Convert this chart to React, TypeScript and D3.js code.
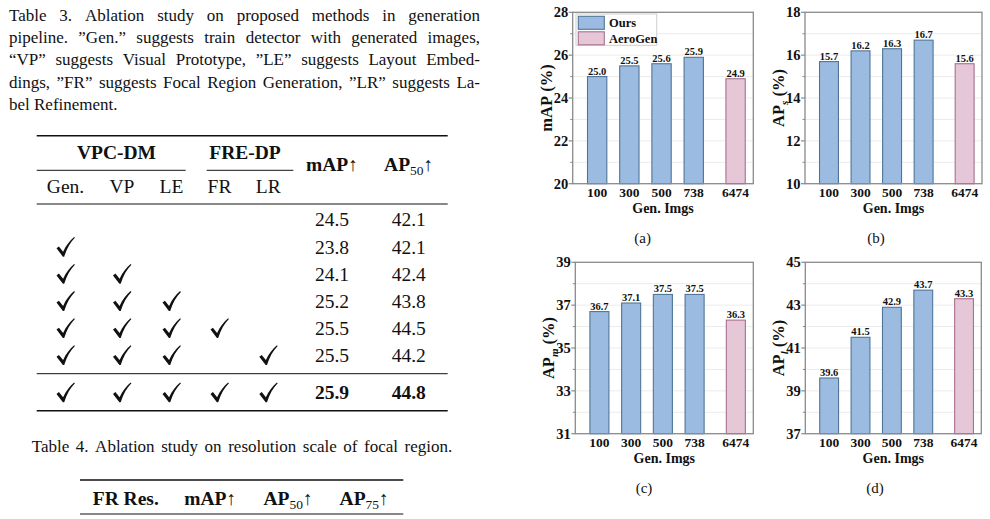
import React from "react";
import * as d3 from "d3";

const SERIF = "'Liberation Serif', 'Times New Roman', serif";

// bar chart data: generated image counts vs. detector scores
const imgCounts = ["100", "300", "500", "738", "6474"];
const methods = ["Ours", "Ours", "Ours", "Ours", "AeroGen"];
const slots = [0, 1, 2, 3, 4.3];
const mapVals = [25.0, 25.5, 25.6, 25.9, 24.9];
const apsVals = [15.7, 16.2, 16.3, 16.7, 15.6];
const apmVals = [36.7, 37.1, 37.5, 37.5, 36.3];
const aplVals = [39.6, 41.5, 42.9, 43.7, 43.3];

// table 3 rows
const t3Checks = [
  [0, 0, 0, 0, 0],
  [1, 0, 0, 0, 0],
  [1, 1, 0, 0, 0],
  [1, 1, 1, 0, 0],
  [1, 1, 1, 1, 0],
  [1, 1, 1, 0, 1],
  [1, 1, 1, 1, 1],
];
const t3Map = ["24.5", "23.8", "24.1", "25.2", "25.5", "25.5", "25.9"];
const t3Ap50 = ["42.1", "42.1", "42.4", "43.8", "44.5", "44.2", "44.8"];
const t3SubHeads = ["Gen.", "VP", "LE", "FR", "LR"];

const captionLines = [
  "Table 3.  Ablation study on proposed methods in generation",
  "pipeline.  \u201DGen.\u201D suggests train detector with generated images,",
  "\u201CVP\u201D suggests Visual Prototype, \u201DLE\u201D suggests Layout Embed-",
  "dings, \u201DFR\u201D suggests Focal Region Generation, \u201DLR\u201D suggests La-",
  "bel Refinement.",
];

const colors = {
  Ours: { fill: "#9bbbe1", stroke: "#4f7698" },
  AeroGen: { fill: "#e5c7d7", stroke: "#a8708e" },
};

const panels = [
  { id: "a", values: mapVals, yMin: 20, label: "mAP", sub: "", box: [572.7, 753.3, 12.3, 183.7], legend: true, capX: 642.7 },
  { id: "b", values: apsVals, yMin: 10, label: "AP", sub: "s", box: [805, 982, 12.3, 183.7], legend: false, capX: 876 },
  { id: "c", values: apmVals, yMin: 31, label: "AP", sub: "m", box: [575.3, 753.3, 262.3, 433.7], legend: false, capX: 644 },
  { id: "d", values: aplVals, yMin: 37, label: "AP", sub: "l", box: [805.3, 981.3, 262.3, 433.7], legend: false, capX: 875 },
];

const ctx = document.createElement("canvas").getContext("2d");
const measure = (s: string, font: string) => {
  ctx.font = font;
  return ctx.measureText(s).width;
};

function Justified({ text, x0, x1, y, size, justify }) {
  const font = `${size}px 'Liberation Serif'`;
  const words = text.split(/ +/);
  const widths = words.map(w => measure(w, font));
  const total = d3.sum(widths);
  const gap = justify ? (x1 - x0 - total) / (words.length - 1) : measure(" ", font);
  let cx = x0;
  return (
    <g>
      {words.map((w, i) => {
        const px = cx;
        cx += widths[i] + gap;
        return (
          <text key={i} x={px} y={y} fontSize={size} fontFamily={SERIF} fill="#111">
            {w}
          </text>
        );
      })}
    </g>
  );
}

function BarPanel({ cfg }) {
  const [x0, x1, y0, y1] = cfg.box;
  const x = d3.scaleLinear().domain([-0.76, 4.85]).range([x0, x1]);
  const y = d3.scaleLinear().domain([cfg.yMin, cfg.yMin + 8]).range([y1, y0]);
  const bw = (x(1) - x(0)) * 0.6;
  const grid = d3.range(cfg.yMin + 1, cfg.yMin + 8, 1);
  const major = d3.range(cfg.yMin, cfg.yMin + 9, 2);
  const minor = d3.range(cfg.yMin + 1, cfg.yMin + 8, 2);
  const midY = (y0 + y1) / 2;
  const titleX = x0 - 21;
  return (
    <g>
      {grid.map(v => (
        <line key={v} x1={x0} x2={x1} y1={y(v)} y2={y(v)} stroke="#ebebeb" strokeWidth={1} />
      ))}
      {cfg.values.map((v, i) => {
        const c = colors[methods[i]];
        return (
          <g key={i}>
            <rect x={x(slots[i]) - bw / 2} y={y(v)} width={bw} height={y1 - y(v)}
              fill={c.fill} stroke={c.stroke} strokeWidth={1.1} />
            <text x={x(slots[i])} y={y(v) - 2} textAnchor="middle" fontSize={10.5}
              fontWeight="bold" fontFamily={SERIF} fill="#111">{v.toFixed(1)}</text>
            <text x={x(slots[i])} y={y1 + 13.5} textAnchor="middle" fontSize={13.5}
              fontWeight="bold" fontFamily={SERIF} fill="#111">{imgCounts[i]}</text>
          </g>
        );
      })}
      <rect x={x0} y={y0} width={x1 - x0} height={y1 - y0} fill="none" stroke="#8a8a8a" strokeWidth={1.3} />
      {major.map(v => (
        <g key={v}>
          <line x1={x0 - 4} x2={x0} y1={y(v)} y2={y(v)} stroke="#8a8a8a" strokeWidth={1.2} />
          <text x={x0 - 4.5} y={y(v) + 5} textAnchor="end" fontSize={14.5} fontWeight="bold"
            fontFamily={SERIF} fill="#111">{v}</text>
        </g>
      ))}
      {minor.map(v => (
        <line key={v} x1={x0 - 2.5} x2={x0} y1={y(v)} y2={y(v)} stroke="#8a8a8a" strokeWidth={1} />
      ))}
      <text transform={`translate(${titleX},${midY}) rotate(-90)`} textAnchor="middle"
        fontSize={16.5} fontWeight="bold" fontFamily={SERIF} fill="#111">
        <tspan>{cfg.label}</tspan>
        {cfg.sub ? <tspan fontSize={11} fontStyle="italic" dy={4}>{cfg.sub}</tspan> : null}
        <tspan dy={cfg.sub ? -4 : 0}>{"\u00A0(%)"}</tspan>
      </text>
      <text x={(x0 + x1) / 2} y={y1 + 29.5} textAnchor="middle" fontSize={14}
        fontWeight="bold" fontFamily={SERIF} fill="#111">Gen. Imgs</text>
      <text x={cfg.capX} y={y1 + 59} textAnchor="middle" fontSize={15}
        fontFamily={SERIF} fill="#111">({cfg.id})</text>
      {cfg.legend && (
        <g transform={`translate(${x0 + 3.3},${y0 + 1.7})`}>
          <rect x={0} y={0} width={80.7} height={31.3} fill="#fff" stroke="#cfcfcf" strokeWidth={1} />
          {["Ours", "AeroGen"].map((m, i) => (
            <g key={m} transform={`translate(0,${i * 15.5})`}>
              <rect x={2.3} y={2.3} width={26} height={13} fill={colors[m].fill}
                stroke={colors[m].stroke} strokeWidth={1.1} />
              <text x={33} y={13.3} fontSize={12.5} fontWeight="bold" fontFamily={SERIF} fill="#111">{m}</text>
            </g>
          ))}
        </g>
      )}
    </g>
  );
}

// hand-drawn style check mark, centred on (cx, cy)
const Check = ({ cx, cy }) => (
  <path
    transform={`translate(${cx},${cy})`}
    d="M-9,1.2 L-6.6,-0.6 L-2.4,4.6 C0.5,-1.8 4.2,-6.4 8.6,-10.2 L9.4,-9.4 C5,-5 1.2,1.4 -1.3,9.6 L-2.6,9.6 Z"
    fill="#111"
  />
);

function Table3() {
  const cols = [65.5, 122, 171.5, 219.5, 268.3];
  const mapX = 332;
  const apX = 408.7;
  const rowY = [220, 247.1, 274.2, 301.3, 328.4, 355.5, 392.7];
  const fs = 19.5;
  return (
    <g fontFamily={SERIF} fill="#111">
      <line x1={36.7} x2={447.7} y1={135.7} y2={135.7} stroke="#111" strokeWidth={1.4} />
      <text x={116.5} y={158.7} textAnchor="middle" fontSize={fs} fontWeight="bold">VPC-DM</text>
      <text x={245} y={158.7} textAnchor="middle" fontSize={fs} fontWeight="bold">FRE-DP</text>
      <line x1={36.7} x2={185.7} y1={170.3} y2={170.3} stroke="#111" strokeWidth={1} />
      <line x1={206.7} x2={293.3} y1={170.3} y2={170.3} stroke="#111" strokeWidth={1} />
      <text x={mapX} y={171.4} textAnchor="middle" fontSize={fs}>
        <tspan fontWeight="bold">mAP</tspan>{"\u2191"}
      </text>
      <text x={apX} y={171.4} textAnchor="middle" fontSize={fs}>
        <tspan fontWeight="bold">AP</tspan>
        <tspan fontSize={13.5} dy={4}>50</tspan>
        <tspan dy={-4}>{"\u2191"}</tspan>
      </text>
      {t3SubHeads.map((h, i) => (
        <text key={h} x={cols[i]} y={193} textAnchor="middle" fontSize={fs}>{h}</text>
      ))}
      <line x1={36.7} x2={447.7} y1={204} y2={204} stroke="#111" strokeWidth={1} />
      {t3Checks.map((row, r) => (
        <g key={r}>
          {row.map((c, i) => (c ? <Check key={i} cx={cols[i]} cy={rowY[r]} /> : null))}
          <text x={mapX} y={rowY[r] + 6.4} textAnchor="middle" fontSize={fs}
            fontWeight={r === 6 ? "bold" : "normal"}>{t3Map[r]}</text>
          <text x={apX} y={rowY[r] + 6.4} textAnchor="middle" fontSize={fs}
            fontWeight={r === 6 ? "bold" : "normal"}>{t3Ap50[r]}</text>
        </g>
      ))}
      <line x1={36.7} x2={447.7} y1={373.7} y2={373.7} stroke="#111" strokeWidth={1} />
      <line x1={36.7} x2={447.7} y1={410.7} y2={410.7} stroke="#111" strokeWidth={1.4} />
    </g>
  );
}

function Table4() {
  const y = 504.7;
  const fs = 19.5;
  return (
    <g fontFamily={SERIF} fill="#111">
      <line x1={80} x2={403.3} y1={480} y2={480} stroke="#111" strokeWidth={1.4} />
      <text x={125.8} y={y} textAnchor="middle" fontSize={fs} fontWeight="bold">FR Res.</text>
      <text x={210.3} y={y} textAnchor="middle" fontSize={fs}>
        <tspan fontWeight="bold">mAP</tspan>{"\u2191"}
      </text>
      <text x={288} y={y} textAnchor="middle" fontSize={fs}>
        <tspan fontWeight="bold">AP</tspan>
        <tspan fontSize={13.5} dy={4}>50</tspan>
        <tspan dy={-4}>{"\u2191"}</tspan>
      </text>
      <text x={364.2} y={y} textAnchor="middle" fontSize={fs}>
        <tspan fontWeight="bold">AP</tspan>
        <tspan fontSize={13.5} dy={4}>75</tspan>
        <tspan dy={-4}>{"\u2191"}</tspan>
      </text>
      <line x1={80} x2={403.3} y1={514} y2={514} stroke="#111" strokeWidth={1} />
    </g>
  );
}

export default function App() {
  return (
    <svg width={990} height={519} style={{ position: "absolute", left: 0, top: 0, background: "#fff" }}>
      <rect width={990} height={519} fill="#fff" />
      {captionLines.map((l, i) => (
        <Justified key={i} text={l} x0={9} x1={480} y={20.6 + i * 22.3} size={17}
          justify={i < captionLines.length - 1} />
      ))}
      <Table3 />
      <Justified text="Table 4. Ablation study on resolution scale of focal region." x0={31.7} x1={452.3}
        y={452} size={17} justify={true} />
      <Table4 />
      {panels.map(p => (
        <BarPanel key={p.id} cfg={p} />
      ))}
    </svg>
  );
}
